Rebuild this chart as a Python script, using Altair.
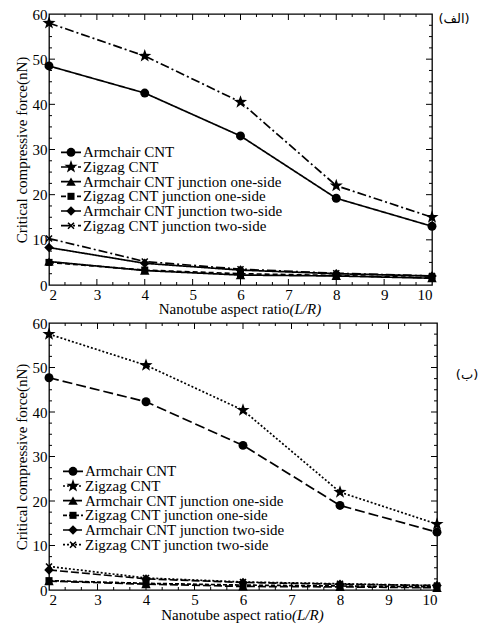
import altair as alt
import pandas as pd

# ---------------- data ----------------
x_vals = [2, 4, 6, 8, 10]
series = [
    "Armchair CNT",
    "Zigzag CNT",
    "Armchair CNT junction one-side",
    "Zigzag CNT junction one-side",
    "Armchair CNT junction two-side",
    "Zigzag CNT junction two-side",
]

# panel (الف)
top_armchair = [48.5, 42.5, 33.0, 19.2, 13.0]
top_zigzag = [58.0, 50.7, 40.5, 22.0, 15.0]
top_arm_one = [5.2, 3.2, 2.2, 2.0, 1.5]
top_zig_one = [5.0, 3.3, 2.5, 2.1, 1.6]
top_arm_two = [8.3, 4.8, 3.3, 2.5, 2.0]
top_zig_two = [10.3, 5.2, 3.5, 2.6, 2.0]

# panel (ب)
bot_armchair = [47.7, 42.3, 32.5, 19.0, 13.0]
bot_zigzag = [57.5, 50.5, 40.4, 22.0, 14.8]
bot_arm_one = [2.0, 1.3, 0.8, 0.7, 0.5]
bot_zig_one = [2.1, 1.5, 1.1, 0.9, 0.7]
bot_arm_two = [4.5, 2.5, 1.7, 1.3, 1.0]
bot_zig_two = [5.3, 2.7, 1.8, 1.4, 1.0]

y_major = [0, 10, 20, 30, 40, 50, 60]
y_minor = [2.5, 5, 7.5, 12.5, 15, 17.5, 22.5, 25, 27.5, 32.5, 35, 37.5,
           42.5, 45, 47.5, 52.5, 55, 57.5]
x_major = [2, 3, 4, 5, 6, 7, 8, 9, 10]
x_minor = [a + f for a in x_major[:-1] for f in (1 / 3, 2 / 3)]

x_title_main = "Nanotube aspect ratio"
x_title_italic = "(L/R)"
y_title = "Critical compressive force(nN)"

FONT = "Liberation Serif"

STAR = ("M0,-1L0.235,-0.324L0.951,-0.309L0.380,0.124L0.588,0.809L0,0.4"
        "L-0.588,0.809L-0.380,0.124L-0.951,-0.309L-0.235,-0.324Z")
XMARK = ("M-1,-0.7L-0.7,-1L0,-0.3L0.7,-1L1,-0.7L0.3,0L1,0.7L0.7,1L0,0.3"
         "L-0.7,1L-1,0.7L-0.3,0Z")
shapes = ["circle", STAR, "triangle-up", "square", "diamond", XMARK]
sizes = [80, 190, 90, 50, 90, 50]


def long_df(cols):
    rows = []
    for name, vals in zip(series, cols):
        for x, v in zip(x_vals, vals):
            rows.append({"series": name, "ratio": x, "force": v})
    return pd.DataFrame(rows)


def panel(cols, dashes, W, H, leg_x, leg_top, leg_bot, tag, tag_x, tag_y, title_dy):
    df = long_df(cols)
    xs = alt.Scale(domain=[2, 10], nice=False, zero=False)
    ys = alt.Scale(domain=[0, 60], nice=False)
    dash = alt.StrokeDash("series:N", scale=alt.Scale(domain=series, range=dashes), legend=None)
    shp = alt.Shape("series:N", scale=alt.Scale(domain=series, range=shapes), legend=None)
    siz = alt.Size("series:N", scale=alt.Scale(type="ordinal", domain=series, range=sizes), legend=None)

    x_axis = alt.Axis(title=None, values=x_major,
                      ticks=False, domain=False, grid=False, format="d",
                      labelPadding=2)
    y_axis = alt.Axis(title=y_title, values=y_major,
                      ticks=False, domain=False, grid=False,
                      labelPadding=2, titlePadding=3)

    lines = alt.Chart(df).mark_line(color="black", strokeWidth=1.7).encode(
        x=alt.X("ratio:Q", scale=xs, axis=x_axis),
        y=alt.Y("force:Q", scale=ys, axis=y_axis),
        strokeDash=dash,
        detail="series:N",
    )
    pts = alt.Chart(df).mark_point(filled=True, color="black", opacity=1).encode(
        x=alt.X("ratio:Q", scale=xs, axis=x_axis),
        y=alt.Y("force:Q", scale=ys, axis=y_axis),
        shape=shp, size=siz
    )

    def ticks(vals, length, axis):
        d = pd.DataFrame({"ratio": vals, "force": vals})
        out = []
        if axis == "y":
            for a, b in ((0, length), (W - length, W)):
                out.append(alt.Chart(d).mark_rule(color="black", strokeWidth=1).encode(
                    y=alt.Y("force:Q", scale=ys, axis=y_axis), x=alt.value(a), x2=alt.value(b)))
        else:
            for a, b in ((H - length, H), (0, length)):
                out.append(alt.Chart(d).mark_rule(color="black", strokeWidth=1).encode(
                    x=alt.X("ratio:Q", scale=xs, axis=x_axis), y=alt.value(a), y2=alt.value(b)))
        return out

    tick_layers = (ticks(y_major[1:-1], 6, "y") + ticks(y_minor, 3, "y")
                   + ticks(x_major[1:-1], 6, "x") + ticks(x_minor, 3, "x"))

    main = alt.layer(lines, pts, *tick_layers)

    ldf = pd.DataFrame({"series": series})
    ly = alt.Y("series:N", scale=alt.Scale(domain=series, range=[leg_top, leg_bot], padding=0),
               axis=None)
    leg_line = alt.Chart(ldf).mark_rule(color="black", strokeWidth=1.7).encode(
        x=alt.value(leg_x), x2=alt.value(leg_x + 20), y=ly, strokeDash=dash)
    leg_pt = alt.Chart(ldf).mark_point(filled=True, color="black", opacity=1).encode(
        x=alt.value(leg_x + 10), y=ly, shape=shp, size=siz)
    leg_txt = alt.Chart(ldf).mark_text(align="left", baseline="middle", font=FONT,
                                       fontSize=15, color="black").encode(
        x=alt.value(leg_x + 22), y=ly, text="series:N")
    tag_mark = alt.Chart(pd.DataFrame({"t": [tag]})).mark_text(
        align="center", baseline="middle", fontSize=13, font="DejaVu Sans", color="black"
    ).encode(x=alt.value(tag_x), y=alt.value(tag_y), text="t:N")

    split = W / 2 + 49
    xt1 = alt.Chart(pd.DataFrame({"t": [x_title_main]})).mark_text(
        align="right", baseline="middle", fontSize=15, font=FONT, color="black"
    ).encode(x=alt.value(split), y=alt.value(H + title_dy), text="t:N")
    xt2 = alt.Chart(pd.DataFrame({"t": [x_title_italic]})).mark_text(
        align="left", baseline="middle", fontSize=15, font=FONT, fontStyle="italic",
        color="black"
    ).encode(x=alt.value(split), y=alt.value(H + title_dy), text="t:N")

    legend = alt.layer(leg_line, leg_pt, leg_txt, tag_mark, xt1, xt2)

    return alt.layer(main, legend).resolve_scale(y="independent").properties(
        width=W, height=H)


top = panel(
    [top_armchair, top_zigzag, top_arm_one, top_zig_one, top_arm_two, top_zig_two],
    [[1, 0], [9, 3, 2, 3], [1, 0], [5, 3], [1, 0], [9, 3, 2, 3]],
    383, 271, 12, 131, 219, "(الف)", 405, 5, 24,
)
bottom = panel(
    [bot_armchair, bot_zigzag, bot_arm_one, bot_zig_one, bot_arm_two, bot_zig_two],
    [[10, 4], [2, 2], [8, 3], [4, 2], [8, 3], [2, 2]],
    388, 267, 14, 141, 229, "(ب)", 418, 52, 25,
)

chart = alt.vconcat(top, bottom, spacing=-3).resolve_scale(
    strokeDash="independent", shape="independent", size="independent"
).properties(
    padding={"left": 5, "top": -2, "right": 5, "bottom": 0},
    background="white",
).configure_view(stroke="black", strokeWidth=1.3).configure_axis(
    labelFont=FONT, titleFont=FONT, labelFontSize=15, titleFontSize=15,
    labelColor="black", titleColor="black", titleFontWeight="normal",
)

chart.save("out.html", embed_options={"renderer": "svg", "actions": False})
